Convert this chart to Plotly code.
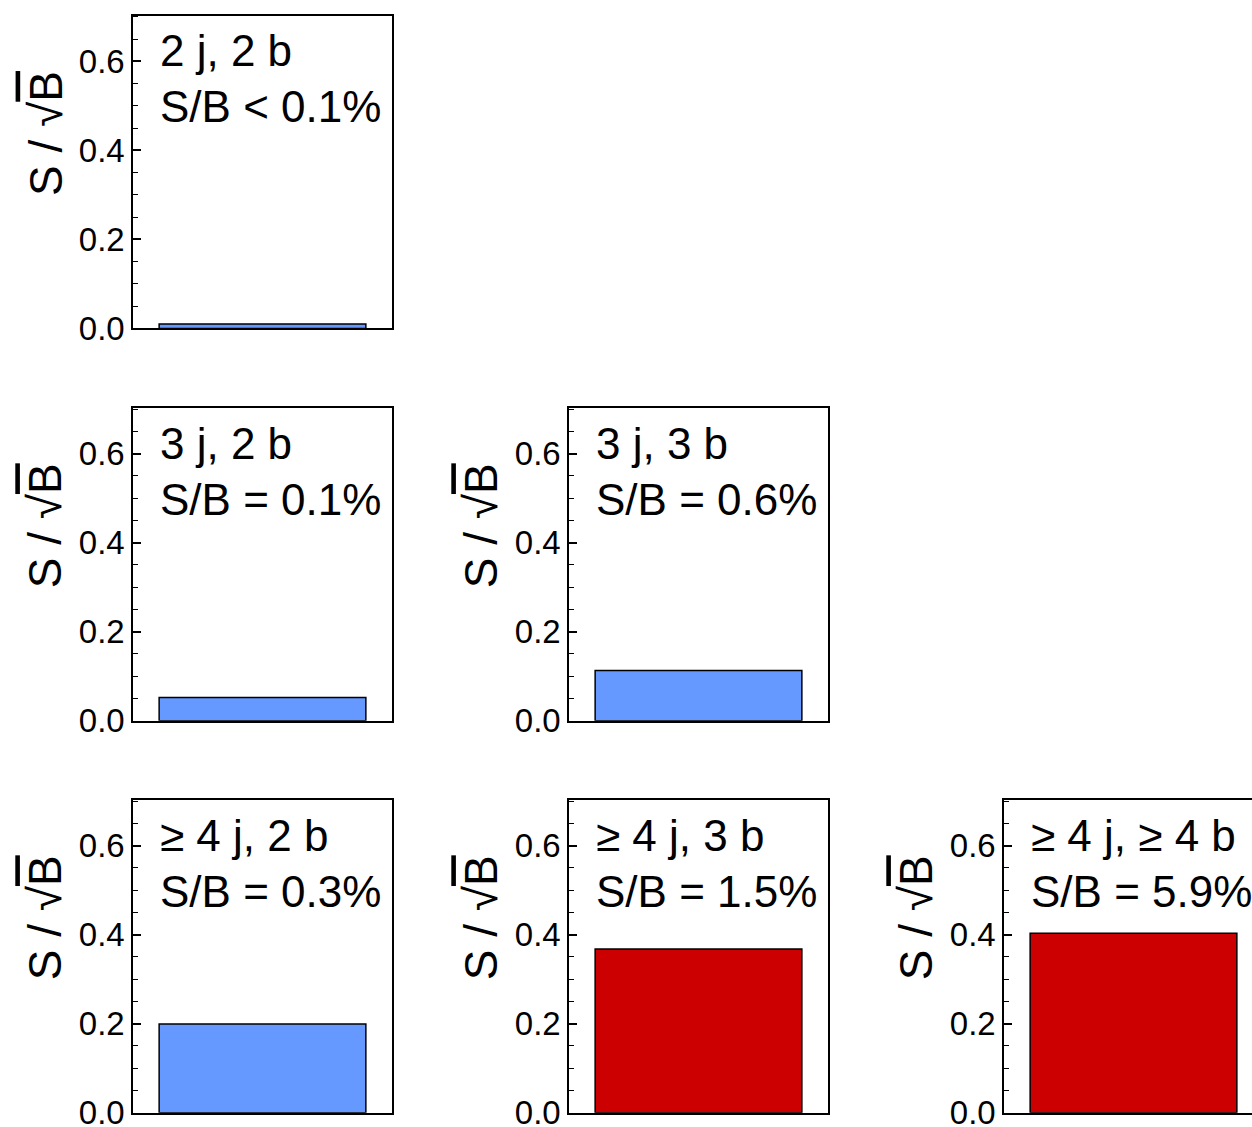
import plotly.graph_objects as go

# ---- data ----
jet_tag = ["2 j, 2 b", "3 j, 2 b", "3 j, 3 b", "≥ 4 j, 2 b", "≥ 4 j, 3 b", "≥ 4 j, ≥ 4 b"]
sb_text = ["S/B < 0.1%", "S/B = 0.1%", "S/B = 0.6%", "S/B = 0.3%", "S/B = 1.5%", "S/B = 5.9%"]
s_over_sqrt_b = [0.010, 0.052, 0.113, 0.199, 0.368, 0.403]
y_ticks = [0.0, 0.2, 0.4, 0.6]
y_tick_labels = ["0.0", "0.2", "0.4", "0.6"]

# ---- layout / style ----
W, H = 1252, 1127
grid_pos = [(0, 0), (1, 0), (1, 1), (2, 0), (2, 1), (2, 2)]
col_left = [133.3, 569.3, 1004.3]
panel_w = 258.4
row_top = [15.7, 408.0, 800.0]
panel_h = 312.7
y_max = 0.7025
bar_colors = ["#6699ff", "#6699ff", "#6699ff", "#6699ff", "#cc0000", "#cc0000"]
FONT = "Liberation Sans, Arial, Helvetica, sans-serif"

fig = go.Figure()
annotations = []
layout_axes = {}

for i, (r, c) in enumerate(grid_pos):
    n = "" if i == 0 else str(i + 1)
    x0 = col_left[c]
    x1 = min(x0 + panel_w, W)
    frac = (x1 - x0) / panel_w
    y_top = row_top[r]
    y_bot = y_top + panel_h
    xd = [x0 / W, x1 / W]
    yd = [1 - y_bot / H, 1 - y_top / H]

    fig.add_trace(go.Bar(
        x=[jet_tag[i]], y=[s_over_sqrt_b[i]], width=0.8,
        marker=dict(color=bar_colors[i], line=dict(color="black", width=1.5)),
        xaxis="x" + n, yaxis="y" + n, showlegend=False,
    ))

    layout_axes["xaxis" + n] = dict(
        domain=xd, anchor="y" + n, type="category",
        range=[-0.5, -0.5 + frac], automargin=False,
        showticklabels=False, ticks="", showgrid=False, zeroline=False,
        showline=True, linecolor="black", linewidth=2, mirror=True,
        fixedrange=True,
    )
    layout_axes["yaxis" + n] = dict(
        domain=yd, anchor="x" + n, range=[0, y_max], automargin=False,
        ticklabeloverflow="allow",
        tickvals=y_ticks, ticktext=y_tick_labels,
        ticks="inside", ticklen=8, tickwidth=1.5, tickcolor="black",
        minor=dict(dtick=0.05, tick0=0, ticks="inside", ticklen=5, tickwidth=1.2, tickcolor="black"),
        tickfont=dict(family=FONT, size=33, color="black"),
        showgrid=False, zeroline=False,
        showline=True, linecolor="black", linewidth=2, mirror=(frac >= 0.999),
        fixedrange=True,
    )

    dom_w = x1 - x0
    annotations.append(dict(
        xref="x" + n + " domain", yref="y" + n + " domain",
        x=25 / dom_w, y=1 - 35 / panel_h, xanchor="left", yanchor="middle",
        text=jet_tag[i], showarrow=False,
        font=dict(family=FONT, size=44, color="black"),
    ))
    annotations.append(dict(
        xref="x" + n + " domain", yref="y" + n + " domain",
        x=25 / dom_w, y=1 - 91 / panel_h, xanchor="left", yanchor="middle",
        text=sb_text[i], showarrow=False,
        font=dict(family=FONT, size=44, color="black"),
    ))
    annotations.append(dict(
        xref="x" + n + " domain", yref="y" + n + " domain",
        x=(45 - 133) / dom_w, y=1 - (134 - 16) / panel_h,
        xanchor="center", yanchor="middle", textangle=-90,
        text='S / √<span style="text-decoration:overline">B</span>', showarrow=False,
        font=dict(family=FONT, size=46, color="black"),
    ))

fig.update_layout(
    width=W, height=H,
    margin=dict(l=0, r=0, t=0, b=0, autoexpand=False),
    paper_bgcolor="white", plot_bgcolor="white",
    annotations=annotations,
    **layout_axes,
)

fig.write_html(
    "out.html",
    config={"displayModeBar": False},
    post_script="document.body.style.margin='0';document.body.style.overflow='hidden';",
)
